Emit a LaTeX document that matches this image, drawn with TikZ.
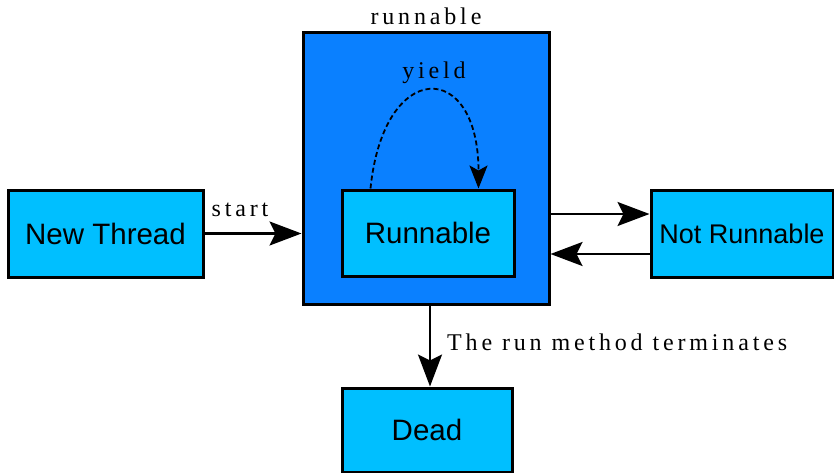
\documentclass[tikz,border=0pt]{standalone}
\usepackage{fontspec}
\setmainfont{Liberation Sans}
\newfontfamily\lblfont[LetterSpace=16]{Liberation Serif}
\usetikzlibrary{arrows.meta, calc}
\definecolor{b1}{HTML}{00BFFF}
\definecolor{b2}{HTML}{0A80FF}

\begin{document}
\begin{tikzpicture}[x=1pt, y=-1pt,
    state/.style={draw, line width=3pt, fill=b1, inner sep=0pt,
        font=\fontsize{29.5}{31}\selectfont},
    group/.style={draw, line width=3pt, fill=b2, inner sep=0pt},
    trans/.style={line width=2.5pt, -{Stealth[length=32pt, width=24pt, inset=6pt]}},
    lbl/.style={anchor=base, inner sep=0pt, font=\lblfont\fontsize{24}{26}\selectfont}]
			\clip (0,0) rectangle (834,473);

			% Draw states
			\node[group, minimum width=246pt, minimum height=271pt] (outer) at (426,168.5) {};
			\node[state, minimum width=195pt, minimum height=87pt] (newthread) at (105.5,233.5) {New Thread};
			\node[state, minimum width=172pt, minimum height=86pt] (runnable) at (428,233) {Runnable};
			\node[state, minimum width=182pt, minimum height=87pt, font=\fontsize{27}{29}\selectfont] (notrunnable) at (742,233.5) {Not Runnable};
			\node[state, minimum width=170pt, minimum height=84pt] (dead) at (427,430) {Dead};

			% Add transitions
			\draw[trans] (newthread.east) -- (newthread.east -| outer.west);
			\draw[trans] (outer.east |- 0,214) -- (notrunnable.west |- 0,214);
			\draw[trans] (notrunnable.west |- 0,254) -- (outer.east |- 0,254);
			\draw[trans] (outer.south -| 430,0) -- (dead.north -| 430,0);
			\coordinate (ystart) at ($(runnable.north west)+(30,0)$);
			\coordinate (yend) at ($(runnable.north west)+(138,0)$);
			\draw[dashed, line width=1.8pt, dash pattern=on 5pt off 3pt,
				-{Stealth[length=23pt, width=18pt, inset=5pt]}]
				(ystart) .. controls ($(ystart)+(13,-130)$) and ($(yend)+(0,-130)$) .. (yend);

			% Label transitions
			\node[lbl] (runnablelbl) at (426,25) {runnable};
			\node[lbl] (yieldlbl) at (434,79) {yield};
			\node[lbl] (startlbl) at (240,216) {start};
			\node[lbl, anchor=base west] (termlbl) at (447,350) {The run method terminates};
		\end{tikzpicture}
\end{document}
